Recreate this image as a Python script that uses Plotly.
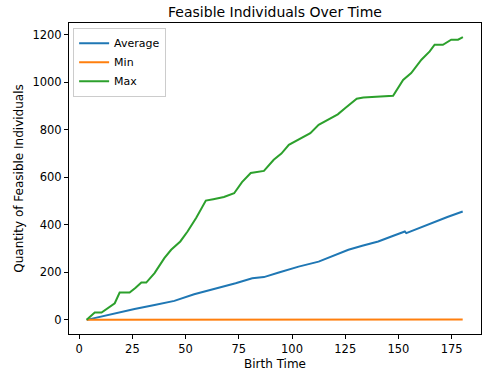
import plotly.graph_objects as go

# Max series
max_x = [3.5, 7.3, 10.5, 13.5, 16.7, 19, 23.7, 26.5, 29.2, 31.5, 35.4, 40, 43.2, 47.5, 50.9, 55, 59.5, 63, 68, 72.8, 76.5, 80.6, 86.8, 91.4, 95, 98.5, 104.7, 108.6, 112.5, 117.9, 121.5, 124.9, 130.4, 133.5, 140, 147.5, 152.2, 156, 160.8, 164.7, 167, 170.9, 174.8, 178, 180.3]
max_y = [0, 31, 31, 50, 70, 115, 115, 135, 157, 157, 197, 260, 295, 330, 372, 430, 502, 508, 517, 533, 580, 618, 627, 674, 700, 737, 765, 786, 821, 849, 865, 891, 931, 936, 938, 943, 1010, 1039, 1095, 1130, 1158, 1158, 1179, 1179, 1190]

# Average series
avg_x = [3.5, 10, 16.7, 26, 35.4, 44.7, 54, 60, 65, 73.5, 81.3, 86.8, 93.8, 103.1, 112.5, 120, 126.5, 133, 140.5, 147, 153, 153.7, 160, 167, 173, 180.2]
avg_y = [0, 14, 28, 46, 63, 80, 108, 122, 136, 154, 175, 180, 199, 224, 245, 272, 295, 312, 330, 352, 372, 365, 388, 414, 433, 456]

# Min series
min_x = [3.5, 60, 100, 127, 130, 160, 180.2]
min_y = [0, 0, 0, 0, 2, 2, 2]

x_ticks = [0, 25, 50, 75, 100, 125, 150, 175]
y_ticks = [0, 200, 400, 600, 800, 1000, 1200]

fig = go.Figure()
fig.add_trace(go.Scatter(x=avg_x, y=avg_y, mode="lines", name="Average",
                         line=dict(color="#1f77b4", width=2)))
fig.add_trace(go.Scatter(x=min_x, y=min_y, mode="lines", name="Min",
                         line=dict(color="#ff7f0e", width=2)))
fig.add_trace(go.Scatter(x=max_x, y=max_y, mode="lines", name="Max",
                         line=dict(color="#2ca02c", width=2)))

fig.update_layout(
    width=482, height=376,
    margin=dict(l=69, r=1, t=23, b=42, autoexpand=False),
    paper_bgcolor="white", plot_bgcolor="white",
    font=dict(family="DejaVu Sans", size=11.5, color="black"),
    title=dict(text="Feasible Individuals Over Time", x=(69 + 481) / 2 / 482, xanchor="center",
               xref="container", yref="container",
               y=1 - 12 / 376, yanchor="middle", font=dict(size=14)),
    showlegend=True,
    legend=dict(x=0.01, y=0.985, xanchor="left", yanchor="top",
                bgcolor="white", bordercolor="#cccccc", borderwidth=1,
                font=dict(size=11), itemwidth=30, tracegroupgap=0),
)
fig.update_xaxes(range=[-4.8, 188.8], tickvals=x_ticks, showgrid=False, zeroline=False,
                 showline=True, linecolor="black", linewidth=1, mirror=True,
                 ticks="outside", ticklen=4, tickcolor="black", automargin=False,
                 tickfont=dict(size=11.5),
                 title=dict(text="Birth Time", font=dict(size=12), standoff=4))
fig.update_yaxes(range=[-59.5, 1249.5], tickvals=y_ticks, showgrid=False, zeroline=False,
                 showline=True, linecolor="black", linewidth=1, mirror=True,
                 ticks="outside", ticklen=4, tickcolor="black", automargin=False,
                 tickfont=dict(size=11.5),
                 title=dict(text="Quantity of Feasible Individuals", font=dict(size=12), standoff=6))

fig.write_html("out.html", config={"displayModeBar": False},
               post_script="document.body.style.margin='0';document.body.style.padding='0';document.body.style.overflow='hidden';")
